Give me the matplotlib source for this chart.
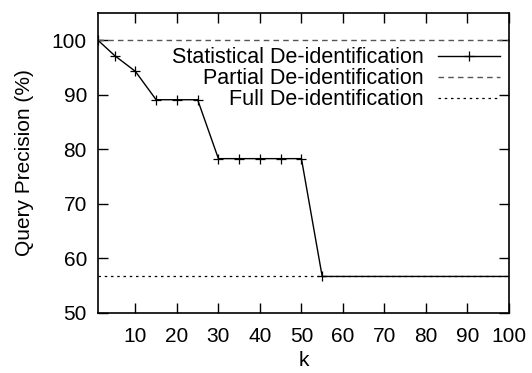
import matplotlib
matplotlib.use("Agg")
import matplotlib.pyplot as plt

# values
k = [1, 5, 10, 15, 20, 25, 30, 35, 40, 45, 50, 55, 100]
statistical = [100, 97.2, 94.3, 89.1, 89.1, 89.1, 78.3, 78.3, 78.3, 78.3, 78.3, 56.7, 56.7]
partial_level = 100
full_level = 56.7
xticks = [10, 20, 30, 40, 50, 60, 70, 80, 90, 100]
yticks = [50, 60, 70, 80, 90, 100]

plt.rcParams["font.family"] = ["Liberation Sans", "DejaVu Sans"]

fig = plt.figure(figsize=(5.32, 3.73), dpi=100)
ax = fig.add_axes([98 / 532, 60 / 373, 411 / 532, 300 / 373])

ax.plot(k, statistical, "-", color="black", lw=1.0, marker="+", ms=7, mew=0.9,
        markevery=list(range(12)), label="Statistical De-identification")
ax.plot([1, 100], [partial_level] * 2, color="#555555", lw=1.0,
        dashes=(4, 3), label="Partial De-identification")
ax.plot([1, 100], [full_level] * 2, color="black", lw=0.9,
        dashes=(2, 3), label="Full De-identification")

ax.set_xlim(1, 100)
ax.set_ylim(50, 105)
ax.set_xticks(xticks)
ax.set_yticks(yticks)
ax.tick_params(direction="in", top=True, right=True, length=7, width=1, labelsize=15)
ax.tick_params(axis="x", pad=10)
ax.tick_params(axis="y", pad=8)
for s in ax.spines.values():
    s.set_linewidth(1.2)

ax.set_xlabel("k", fontsize=15, labelpad=4)
ax.set_ylabel("Query Precision (%)", fontsize=15, labelpad=13)

ax.legend(loc="upper right", frameon=False, markerfirst=False, handlelength=2.9,
          fontsize=15.5, labelspacing=0.0, borderaxespad=0.0, bbox_to_anchor=(1.0, 0.915),
          handletextpad=0.65)

fig.savefig("out.png", dpi=100)
